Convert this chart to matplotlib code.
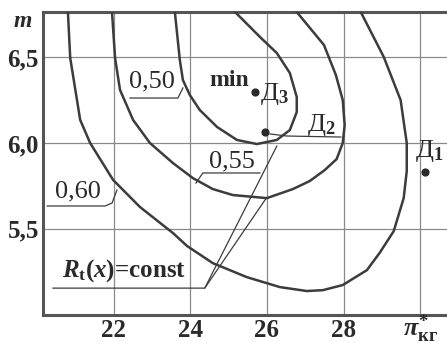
import matplotlib
matplotlib.use("Agg")
import matplotlib.pyplot as plt

plt.rcParams['font.family'] = ['Liberation Serif', 'DejaVu Serif']
plt.rcParams['mathtext.fontset'] = 'custom'
plt.rcParams['mathtext.rm'] = 'Liberation Serif:bold'
plt.rcParams['mathtext.it'] = 'Liberation Serif:italic:bold'
plt.rcParams['mathtext.bf'] = 'Liberation Serif:bold'

# линии равного уровня R_t(x) = const (x = pi*_kг, y = m)
x_050 = [23.60, 23.73, 23.81, 23.99, 24.25, 24.70, 25.22, 25.74, 26.26, 26.60,
         26.78, 26.78, 26.60, 26.26, 25.82, 25.17]
m_050 = [6.766, 6.485, 6.368, 6.281, 6.193, 6.094, 6.018, 5.994, 6.018, 6.076,
         6.181, 6.269, 6.409, 6.526, 6.620, 6.766]

x_055 = [21.96, 22.04, 22.17, 22.51, 22.95, 23.55, 24.07, 24.59, 25.11, 26.00,
         26.68, 27.12, 27.51, 27.82, 27.98, 28.03, 27.98, 27.80, 27.49, 26.78]
m_055 = [6.766, 6.497, 6.310, 6.135, 6.000, 5.883, 5.795, 5.731, 5.696, 5.678,
         5.731, 5.778, 5.842, 5.906, 6.000, 6.105, 6.251, 6.398, 6.573, 6.766]

x_060 = [20.81, 20.87, 21.13, 21.39, 21.99, 22.69, 23.55, 23.92, 24.59, 25.48,
         26.34, 27.04, 27.46, 27.98, 28.61, 28.94, 29.31, 29.57, 29.65, 29.65,
         29.49, 29.05, 28.45]
m_060 = [6.766, 6.497, 6.135, 6.000, 5.784, 5.626, 5.474, 5.398, 5.298, 5.216,
         5.158, 5.135, 5.140, 5.170, 5.257, 5.357, 5.485, 5.678, 5.836, 6.000,
         6.251, 6.503, 6.766]

# точки Д1, Д2, Д3
pt_names = ['Д$_1$', 'Д$_2$', 'Д$_3$']
pt_x = [30.12, 25.95, 25.69]
pt_m = [5.830, 6.064, 6.298]

x_ticks = [22, 24, 26, 28, 30]
x_labels = ['22', '24', '26', '28', '']
m_ticks = [5.5, 6.0, 6.5]
m_labels = ['5,5', '6,0', '6,5']

line_col = '#3c3c3c'
grid_col = '#8a8a8a'
txt_col = '#2a2a2a'

fig = plt.figure(figsize=(4.47, 3.42), dpi=100)
ax = fig.add_axes([0.0962, 0.079, 0.9038, 0.886])

for xs, ms in [(x_050, m_050), (x_055, m_055), (x_060, m_060)]:
    ax.plot(xs, ms, color=line_col, lw=1.8, solid_joinstyle='round', zorder=3)

ax.scatter(pt_x, pt_m, s=24, color=txt_col, zorder=4)

ax.set_xlim(20.16, 30.7)
ax.set_ylim(4.995, 6.766)
ax.set_xticks(x_ticks)
ax.set_xticklabels(x_labels)
ax.set_yticks(m_ticks)
ax.set_yticklabels(m_labels)
ax.tick_params(length=0, labelsize=18, colors=txt_col, pad=3)
for lab in ax.get_xticklabels() + ax.get_yticklabels():
    lab.set_fontweight('bold')
ax.grid(True, color=grid_col, lw=0.9)
ax.set_axisbelow(True)

for side in ['left', 'bottom', 'top']:
    ax.spines[side].set_color('#555555')
    ax.spines[side].set_linewidth(2.2)
ax.spines['right'].set_visible(False)

# подписи осей
ax.text(19.62, 6.713, '$m$', fontsize=17, color=txt_col,
        ha='center', va='center', clip_on=False)
ax.text(30.0, 4.87, r'$\pi^{*}_{\mathrm{кг}}$', fontsize=19, color=txt_col,
        ha='center', va='baseline', clip_on=False)

# подписи уровней
lab_kw = dict(fontsize=19, color=txt_col, ha='center', va='center')
ax.text(23.0, 6.357, '0,50', **lab_kw)
ax.plot([22.43, 23.68, 23.81], [6.263, 6.263, 6.322], color=line_col, lw=0.9)
ax.text(25.09, 5.895, '0,55', **lab_kw)
ax.plot([25.82, 24.33, 24.15], [5.825, 5.825, 5.766], color=line_col, lw=0.9)
ax.text(21.07, 5.719, '0,60', **lab_kw)
ax.plot([20.27, 21.78, 21.96, 22.09], [5.632, 5.632, 5.649, 5.725], color=line_col, lw=0.9)

ax.text(22.27, 5.257, r'$R_{\mathrm{t}}(x)$=const', fontsize=18, color=txt_col,
        ha='center', va='center', fontweight='bold')
ax.plot([20.42, 24.38, 26.26], [5.152, 5.152, 5.982], color=line_col, lw=0.9)
ax.plot([24.38, 25.97], [5.152, 5.673], color=line_col, lw=0.9)

ax.text(25.01, 6.368, 'min', fontsize=17, fontweight='bold', color=txt_col,
        ha='center', va='center')

# подписи точек
ax.text(25.82, 6.289, pt_names[2], fontsize=19, color=txt_col, ha='left', va='center')
ax.text(27.04, 6.108, pt_names[1], fontsize=19, color=txt_col, ha='left', va='center')
ax.plot([26.08, 26.52, 27.93], [6.053, 6.041, 6.035], color=line_col, lw=0.9)
ax.text(29.86, 5.953, pt_names[0], fontsize=19, color=txt_col, ha='left', va='center')

fig.savefig('out.png', dpi=100, facecolor='white')
